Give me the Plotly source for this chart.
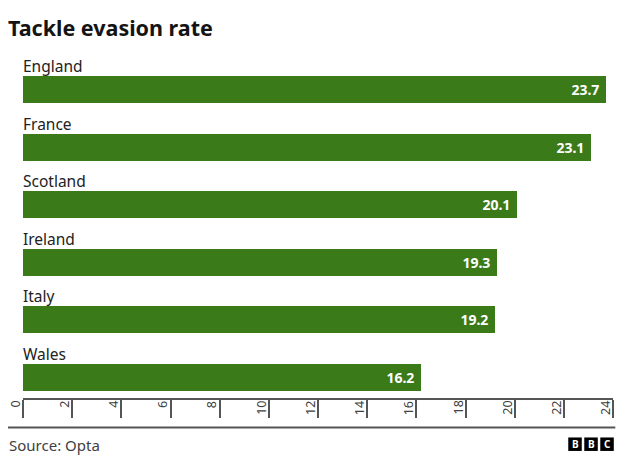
import plotly.graph_objects as go

countries = ["England", "France", "Scotland", "Ireland", "Italy", "Wales"]
values = [23.7, 23.1, 20.1, 19.3, 19.2, 16.2]
tick_vals = [0, 2, 4, 6, 8, 10, 12, 14, 16, 18, 20, 22, 24]

# The page body has an 8px default margin; the figure is sized and laid out
# so that the visible result lines up with the 624x472 window.
OFF = 8
W, H = 624 - OFF, 472 - OFF
L = 23.3 - OFF
R = 624 - 612.7
T = 60.7 - OFF
B = 472 - 398
PW, PH = W - L - R, H - T - B

def px(x):
    return (x - OFF - L) / PW

def py(y):
    return (H - B - (y - OFF)) / PH

GREEN = "#3b7a18"
FONT = "Noto Sans"

fig = go.Figure(go.Bar(
    x=values, y=countries, orientation="h",
    marker=dict(color=GREEN, line=dict(width=0)),
    width=0.47,
    text=[f"{v:.1f}&nbsp;" for v in values],
    textposition="inside", insidetextanchor="end",
    textfont=dict(family=FONT, size=14, color="white", weight="bold"),
    cliponaxis=False, hoverinfo="skip",
))

annotations = []
for c in countries:
    annotations.append(dict(
        x=0, y=c, xref="x", yref="y", text=c, showarrow=False,
        xanchor="left", yanchor="bottom", yshift=10.5, xshift=-2,
        font=dict(family=FONT, size=15.5, color="#222222"),
    ))
for t in tick_vals:
    annotations.append(dict(
        x=t, y=0, xref="x", yref="paper", text=str(t), showarrow=False,
        xanchor="center", yanchor="top", xshift=-8, yshift=-1,
        textangle=-90,
        font=dict(family=FONT, size=12.5, color="#404040"),
    ))
annotations.append(dict(
    x=px(7), y=py(445), xref="paper", yref="paper", text="Source: Opta",
    showarrow=False, xanchor="left", yanchor="middle",
    font=dict(family=FONT, size=15, color="#404040"),
))

shapes = [dict(
    type="line", xref="paper", yref="paper",
    x0=px(7), x1=px(615), y0=py(427.5), y1=py(427.5),
    line=dict(color="#555555", width=2),
)]
for i, letter in enumerate("BBC"):
    x0 = 568 + i * 16
    shapes.append(dict(
        type="rect", xref="paper", yref="paper",
        x0=px(x0), x1=px(x0 + 13.5), y0=py(451), y1=py(437.5),
        fillcolor="#000000", line=dict(width=0),
    ))
    annotations.append(dict(
        x=px(x0 + 6.75), y=py(444.2), xref="paper", yref="paper", text=letter,
        showarrow=False, xanchor="center", yanchor="middle",
        font=dict(family=FONT, size=10, color="white", weight="bold"),
    ))

fig.update_layout(
    width=W, height=H,
    margin=dict(l=L, r=R, t=T, b=B, pad=0),
    plot_bgcolor="white", paper_bgcolor="white",
    showlegend=False,
    title=dict(text="<b>Tackle evasion rate</b>", x=(8 - OFF) / W, xanchor="left",
               y=1 - (28 - OFF) / H, yanchor="middle",
               font=dict(family=FONT, size=21.5, color="#141414")),
    xaxis=dict(range=[0, 24], tickvals=tick_vals, showticklabels=False,
               ticks="outside", ticklen=18, tickwidth=1.5, tickcolor="#555555",
               showline=True, linecolor="#555555", linewidth=1.5,
               showgrid=False, zeroline=False, fixedrange=True),
    yaxis=dict(categoryorder="array", categoryarray=countries,
               range=[5 + (398 - 377.5) / 57.6, -0.5],
               showticklabels=False, showgrid=False, zeroline=False,
               showline=False, ticks="", fixedrange=True),
    annotations=annotations, shapes=shapes,
    bargap=0,
)

fig.write_html("out.html", config={"displayModeBar": False})
